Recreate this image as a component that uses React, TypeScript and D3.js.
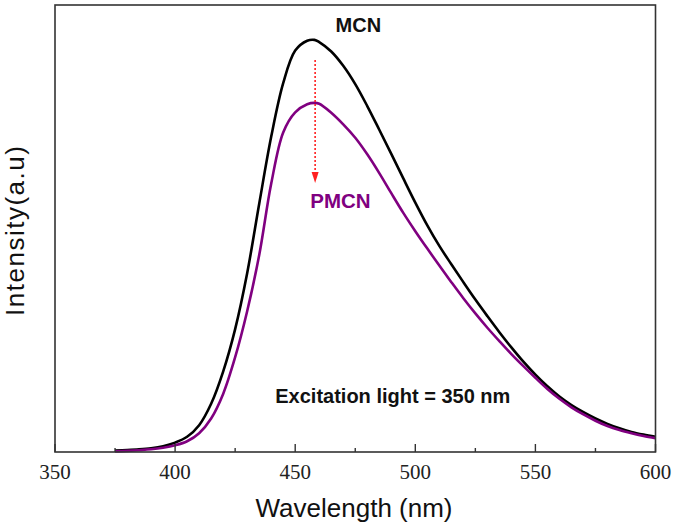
import React from "react";
import * as d3 from "d3";

const wavelengths = [375, 380, 385, 390, 395, 400, 405, 410, 415, 420, 425, 430, 435, 440, 445, 450, 455, 458, 460, 465, 470, 475, 480, 485, 490, 495, 500, 505, 510, 515, 520, 525, 530, 535, 540, 545, 550, 555, 560, 565, 570, 575, 580, 585, 590, 595, 600];

const mcn = [0.35, 0.45, 0.6, 0.85, 1.3, 2.1, 3.4, 6.0, 10.8, 18.0, 27.5, 40.0, 55.5, 70.5, 82.5, 89.8, 92.0, 92.2, 91.7, 89.6, 86.4, 82.3, 77.4, 72.1, 66.7, 61.2, 55.8, 50.7, 46.1, 42.0, 38.0, 34.1, 30.4, 26.8, 23.4, 20.2, 17.3, 14.7, 12.4, 10.5, 8.9, 7.5, 6.3, 5.3, 4.5, 3.9, 3.4];

const pmcn = [0.15, 0.25, 0.4, 0.6, 0.95, 1.5, 2.4, 4.2, 7.5, 13.0, 21.2, 31.5, 44.0, 60.0, 71.5, 76.0, 77.8, 78.1, 77.9, 75.9, 73.3, 70.3, 66.6, 62.4, 57.9, 53.5, 49.4, 45.5, 41.7, 38.0, 34.4, 31.0, 27.8, 24.8, 21.9, 19.2, 16.6, 14.1, 11.9, 10.0, 8.4, 7.0, 5.8, 4.9, 4.2, 3.6, 3.1];

const majorTicks = [350, 400, 450, 500, 550, 600];
const minorTicks = [375, 425, 475, 525, 575];

const W = 675;
const H = 531;
const left = 55;
const right = 655.5;
const top = 5;
const bottom = 452;

const SERIF = "Liberation Serif";
const SANS = "Liberation Sans";

export default function App() {
  const x = d3.scaleLinear().domain([350, 600]).range([left, right]);
  const y = d3.scaleLinear().domain([0, 100]).range([bottom, top]);

  const line = d3
    .line<number>()
    .x((_, i) => x(wavelengths[i]))
    .y((d) => y(d))
    .curve(d3.curveCatmullRom.alpha(0.5));

  const arrowX = x(458.3);
  const arrowY1 = y(87.7);
  const arrowY2 = y(60.2);

  return (
    <svg width={W} height={H} style={{ position: "absolute", left: 0, top: 0, background: "#fff" }}>
      <rect x={0} y={0} width={W} height={H} fill="#fff" />
      <path d={line(mcn) || ""} fill="none" stroke="#000" strokeWidth={2.6} strokeLinejoin="round" />
      <path d={line(pmcn) || ""} fill="none" stroke="#800080" strokeWidth={2.6} strokeLinejoin="round" />

      {/* frame */}
      <rect x={left} y={top} width={right - left} height={bottom - top} fill="none" stroke="#333" strokeWidth={1.6} />

      {/* ticks */}
      {majorTicks.map((t) => (
        <g key={"M" + t}>
          <line x1={x(t)} x2={x(t)} y1={bottom} y2={bottom - 8} stroke="#333" strokeWidth={1.4} />
          <text x={x(t)} y={479} textAnchor="middle" fontFamily={SERIF} fontSize={21} fill="#222">
            {t}
          </text>
        </g>
      ))}
      {minorTicks.map((t) => (
        <line key={"m" + t} x1={x(t)} x2={x(t)} y1={bottom} y2={bottom - 4} stroke="#333" strokeWidth={1.4} />
      ))}

      {/* axis titles */}
      <text x={354} y={517} textAnchor="middle" fontFamily={SANS} fontSize={26} fill="#111">
        Wavelength (nm)
      </text>
      <text
        transform={`translate(24,231) rotate(-90)`}
        textAnchor="middle"
        fontFamily={SANS}
        fontSize={26}
        fill="#111"
        textLength={170}
        lengthAdjust="spacing"
      >
        Intensity(a.u)
      </text>

      {/* annotations */}
      <text x={x(476.3)} y={y(94)} textAnchor="middle" fontFamily={SANS} fontSize={20} fontWeight="bold" fill="#111">
        MCN
      </text>
      <text x={x(456.25)} y={y(54.6)} fontFamily={SANS} fontSize={20.5} fontWeight="bold" fill="#800080">
        PMCN
      </text>
      <line
        x1={arrowX}
        x2={arrowX}
        y1={arrowY1}
        y2={arrowY2 - 10}
        stroke="#ff2020"
        strokeWidth={1.6}
        strokeDasharray="2,2"
      />
      <path
        d={`M${arrowX - 3.5},${arrowY2 - 11} L${arrowX + 3.5},${arrowY2 - 11} L${arrowX},${arrowY2} Z`}
        fill="#ff2020"
      />
      <text x={x(441.7)} y={y(11)} fontFamily={SANS} fontSize={20} fontWeight="bold" fill="#111">
        Excitation light = 350 nm
      </text>
    </svg>
  );
}
